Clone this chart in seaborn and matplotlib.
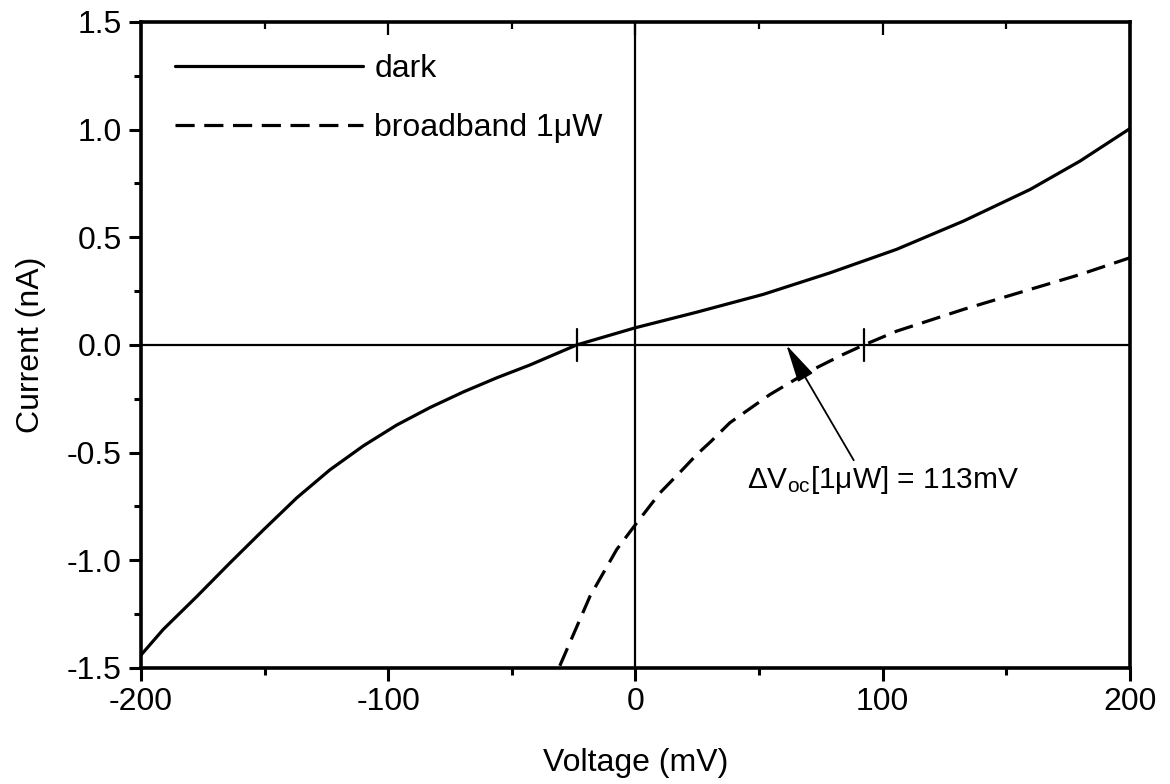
import numpy as np
import pandas as pd
import matplotlib
matplotlib.use("Agg")
import matplotlib.pyplot as plt
from matplotlib.ticker import MultipleLocator
import seaborn as sns

# ---- data ----
dark_v = [-200, -191, -177.5, -164, -150.5, -137, -123.6, -110, -96.6, -83, -69.6, -56, -42.7,
          -23.8, 0, 24.7, 51.7, 78.7, 105.6, 132.6, 159.6, 179.8, 200]
dark_i = [-1.44, -1.321, -1.169, -1.012, -0.859, -0.71, -0.58, -0.468, -0.372, -0.29, -0.218, -0.152, -0.093,
          0.0, 0.08, 0.152, 0.235, 0.335, 0.444, 0.575, 0.722, 0.854, 1.005]

light_v = [-30.6, -18.4, -7.6, 0, 9.9, 19.1, 24.7, 30.6, 38.2, 54.4, 69.2, 84, 92.4,
           105.6, 132.6, 159.6, 179.8, 200]
light_i = [-1.49, -1.167, -0.95, -0.834, -0.687, -0.578, -0.51, -0.447, -0.361, -0.23, -0.129, -0.044, 0.0,
           0.064, 0.165, 0.258, 0.327, 0.405]

series_names = ["dark", "broadband 1μW"]
voc_marks = [-23.8, 92.4]
annotation_text = r"ΔV$_{\mathrm{oc}}$[1μW] = 113mV"
x_ticks = [-200, -100, 0, 100, 200]
y_ticks = [-1.5, -1.0, -0.5, 0.0, 0.5, 1.0, 1.5]

sns.set_style("ticks", {"text.color": "black", "axes.labelcolor": "black",
                        "xtick.color": "black", "ytick.color": "black",
                        "axes.edgecolor": "black"})
plt.rcParams["font.family"] = ["Liberation Sans", "DejaVu Sans"]
plt.rcParams["mathtext.fontset"] = "custom"
plt.rcParams["mathtext.rm"] = "Liberation Sans"
plt.rcParams["mathtext.it"] = "Liberation Sans"

df = pd.concat([
    pd.DataFrame({"V": dark_v, "I": dark_i, "series": series_names[0]}),
    pd.DataFrame({"V": light_v, "I": light_i, "series": series_names[1]}),
])

fig = plt.figure(figsize=(11.7, 7.84), dpi=100)
ax = fig.add_axes([0.1205, 0.148, 0.8453, 0.824])

ax.axhline(0, color="black", lw=1.6, zorder=1)
ax.axvline(0, color="black", lw=1.6, zorder=1)

sns.lineplot(data=df, x="V", y="I", style="series", style_order=series_names,
             dashes={series_names[0]: "", series_names[1]: (6, 3)},
             color="black", lw=2.3, ax=ax, sort=False, estimator=None)

for xv in voc_marks:
    ax.plot([xv, xv], [-0.075, 0.075], color="black", lw=1.6)

ax.annotate(annotation_text, xy=(61, 0.0), xytext=(45, -0.625),
            fontsize=21.5, ha="left", va="center", color="black",
            arrowprops=dict(arrowstyle="-|>,head_length=1.1,head_width=0.25",
                            color="black", lw=1.3, shrinkA=0, shrinkB=0,
                            relpos=(0.4, 1.0)))

ax.set_xlim(-200, 200)
ax.set_ylim(-1.5, 1.5)
ax.set_xticks(x_ticks)
ax.set_yticks(y_ticks)
ax.set_xticklabels([f"{t:d}" for t in x_ticks])
ax.set_yticklabels([f"{t:.1f}" for t in y_ticks])
ax.xaxis.set_minor_locator(MultipleLocator(50))
ax.yaxis.set_minor_locator(MultipleLocator(0.25))

ax.tick_params(axis="both", which="major", direction="out", length=9, width=2.2,
               labelsize=23, pad=5, color="black", labelcolor="black")
ax.tick_params(axis="both", which="minor", direction="out", length=5, width=2.2)

# top ticks inward via secondary axis
sec = ax.secondary_xaxis("top")
sec.set_xticks(x_ticks)
sec.xaxis.set_minor_locator(MultipleLocator(50))
sec.tick_params(which="major", direction="in", length=9, width=1.6, labeltop=False)
sec.tick_params(which="minor", direction="in", length=5, width=1.6)
sec.set_xticklabels([])
sec.spines["top"].set_visible(False)

for s in ax.spines.values():
    s.set_linewidth(2.6)
    s.set_color("black")

ax.set_xlabel("Voltage (mV)", fontsize=23, labelpad=22)
ax.set_ylabel("Current (nA)", fontsize=23, labelpad=15)

leg = ax.legend(handles=ax.get_legend_handles_labels()[0],
                labels=series_names, loc="upper left", frameon=False,
                fontsize=23, handlelength=5.9, handletextpad=0.35,
                labelspacing=0.9, borderaxespad=0.5, bbox_to_anchor=(0.005, 0.995))
for t in leg.get_texts():
    t.set_color("black")
for h in leg.get_lines():
    h.set_linewidth(2.3)

fig.savefig("out.png", dpi=100)
